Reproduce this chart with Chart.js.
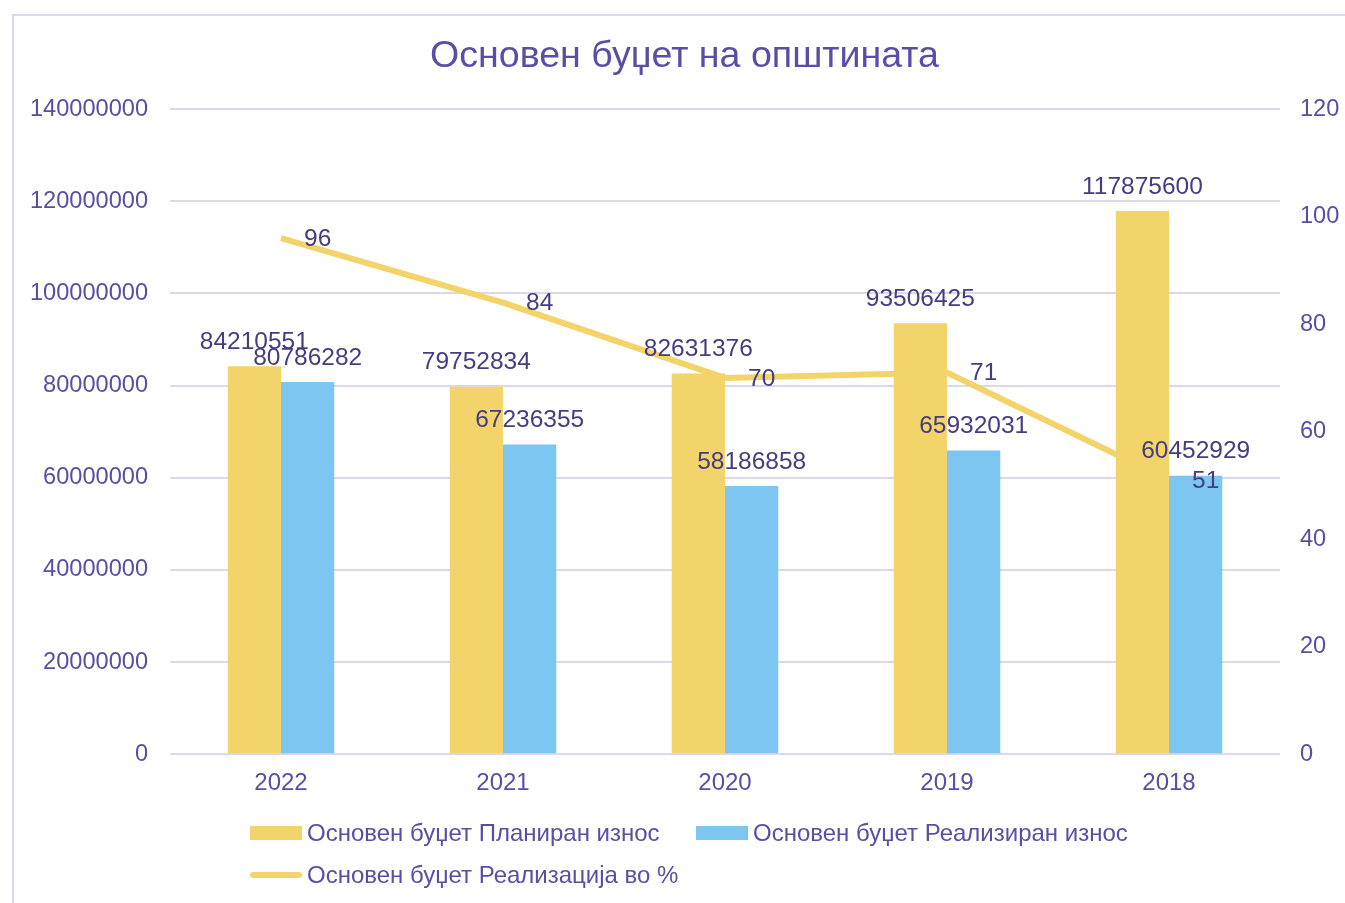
<!DOCTYPE html>
<html>
<head>
<meta charset="utf-8">
<script src="https://cdn.jsdelivr.net/npm/chart.js@4.4.1/dist/chart.umd.min.js"></script>
<style>
  html, body { margin: 0; padding: 0; background: #fff; }
  #wrap { position: relative; width: 1345px; height: 903px; overflow: hidden; }
  #frame { position: absolute; left: 12px; top: 14px; width: 1400px; height: 1000px;
           border-top: 2px solid #DCD8EA; border-left: 2px solid #DCD8EA; }
  canvas { position: absolute; left: 0; top: 0; }
  .legend { position: absolute; font-family: "Liberation Sans", Arial, sans-serif;
            font-size: 24px; color: #5A4DA6; white-space: nowrap; }
  .item { position: absolute; display: flex; align-items: center; }
  .box { width: 52px; height: 14px; margin-right: 5px; }
  .ln { width: 52px; height: 6px; border-radius: 3px; margin-right: 5px; }
</style>
</head>
<body>
<div id="wrap">
  <div id="frame"></div>
  <canvas id="chart" width="1345" height="903"></canvas>
  <div class="legend" id="legend"></div>
</div>
<script>
// Categories and values
const years = ["2022", "2021", "2020", "2019", "2018"];
const planned = [84210551, 79752834, 82631376, 93506425, 117875600];
const realized = [80786282, 67236355, 58186858, 65932031, 60452929];
const percent = [96, 84, 70, 71, 51];

const seriesNames = [
  "Основен буџет Планиран износ",
  "Основен буџет Реализиран износ",
  "Основен буџет Реализација во %"
];

const yellow = "#F2D46A";
const blue = "#7DC6F2";
const textColor = "#5A4DA6";
const labelColor = "#463C82";
const gridColor = "#DCD8EA";
const fontFamily = "'Liberation Sans', Arial, sans-serif";

// Draws the value labels above bars and beside the line points
const valueLabels = {
  id: "valueLabels",
  afterDatasetsDraw(chart) {
    const ctx = chart.ctx;
    ctx.save();
    ctx.font = "24.5px " + fontFamily;
    ctx.fillStyle = labelColor;
    ctx.textBaseline = "middle";
    chart.data.datasets.forEach((ds, i) => {
      const meta = chart.getDatasetMeta(i);
      meta.data.forEach((el, j) => {
        const txt = String(ds.data[j]);
        if (ds.type === "line") {
          ctx.textAlign = "left";
          ctx.fillText(txt, el.x + 23, el.y + 1);
        } else {
          ctx.textAlign = "center";
          ctx.fillText(txt, el.x, el.y - 24);
        }
      });
    });
    ctx.restore();
  }
};

window.onload = () => {
  let ctx = document.getElementById("chart").getContext("2d");

  new Chart(ctx, {
    data: {
      labels: years,
      datasets: [
        {
          type: "bar",
          label: seriesNames[0],
          data: planned,
          backgroundColor: yellow,
          yAxisID: "y",
          order: 1
        },
        {
          type: "bar",
          label: seriesNames[1],
          data: realized,
          backgroundColor: blue,
          yAxisID: "y",
          order: 1
        },
        {
          type: "line",
          label: seriesNames[2],
          data: percent,
          borderColor: yellow,
          borderWidth: 6,
          pointRadius: 0,
          fill: false,
          yAxisID: "y1",
          order: 2
        }
      ]
    },
    options: {
      responsive: false,
      animation: false,
      layout: { padding: { top: 14, bottom: 90, left: 24, right: 0 } },
      datasets: {
        bar: { categoryPercentage: 0.48, barPercentage: 1.0 }
      },
      plugins: {
        legend: { display: false },
        tooltip: { enabled: false },
        title: {
          display: true,
          text: "Основен буџет на општината",
          color: textColor,
          font: { family: fontFamily, size: 37.6, weight: "normal" },
          padding: { top: 20, bottom: 30 }
        }
      },
      scales: {
        x: {
          grid: { display: false, drawTicks: false },
          border: { display: false },
          ticks: { color: textColor, font: { family: fontFamily, size: 24 }, padding: 15 }
        },
        y: {
          position: "left",
          min: 0,
          max: 140000000,
          grid: { color: gridColor, lineWidth: 2, drawTicks: false },
          border: { display: false },
          ticks: {
            stepSize: 20000000,
            color: textColor,
            font: { family: fontFamily, size: 23.6 },
            padding: 22,
            callback: v => String(v)
          },
          afterFit: s => { s.width = 146; }
        },
        y1: {
          position: "right",
          min: 0,
          max: 120,
          grid: { display: false, drawTicks: false },
          border: { display: false },
          ticks: {
            stepSize: 20,
            color: textColor,
            font: { family: fontFamily, size: 23.6 },
            padding: 20,
            callback: v => String(v)
          },
          afterFit: s => { s.width = 65; }
        }
      }
    },
    plugins: [valueLabels]
  });

  // Legend laid out like the reference: two items on the first row, one below
  const legend = document.getElementById("legend");
  const pos = [[250, 819], [696, 819], [250, 861]];
  const marks = ["box", "box", "ln"];
  const colors = [yellow, blue, yellow];
  seriesNames.forEach((name, i) => {
    const item = document.createElement("div");
    item.className = "item";
    item.style.left = pos[i][0] + "px";
    item.style.top = pos[i][1] + "px";
    const m = document.createElement("span");
    m.className = marks[i];
    m.style.background = colors[i];
    const t = document.createElement("span");
    t.textContent = name;
    item.appendChild(m);
    item.appendChild(t);
    legend.appendChild(item);
  });
};
</script>
</body>
</html>
